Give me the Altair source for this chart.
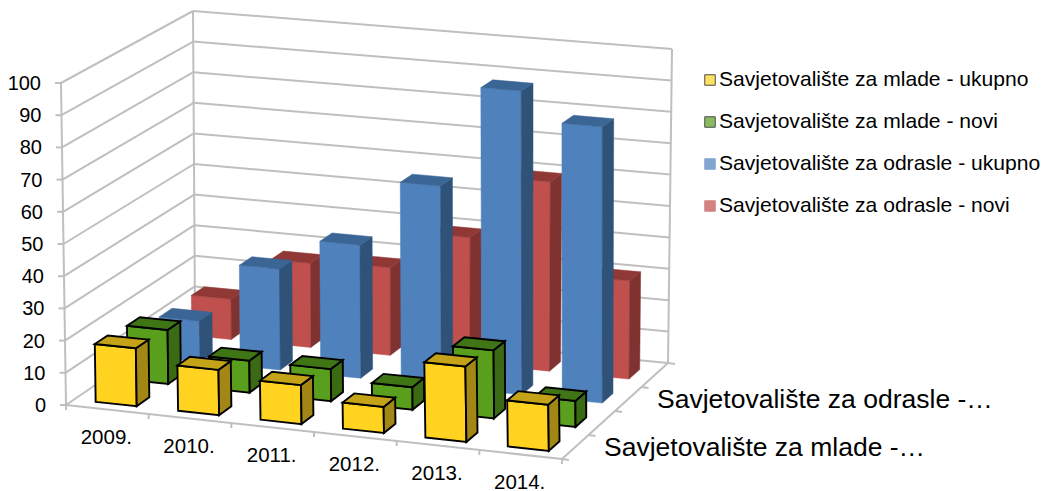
import altair as alt

years = ["2009.", "2010.", "2011.", "2012.", "2013.", "2014."]
legend_names = ["Savjetovalište za mlade - ukupno", "Savjetovalište za mlade - novi",
                "Savjetovalište za odrasle - ukupno", "Savjetovalište za odrasle - novi"]
depth_labels = ["Savjetovalište za mlade -…", "Savjetovalište za odrasle -…"]
y_ticks = [0, 10, 20, 30, 40, 50, 60, 70, 80, 90, 100]

mlade_ukupno = [18, 14, 12, 8, 23, 14]
mlade_novi = [17, 10, 10, 7, 21, 8]
odrasle_ukupno = [13, 32, 42, 63, 95, 86]
odrasle_novi = [13, 27, 28, 40, 60, 31]
series = [mlade_ukupno, mlade_novi, odrasle_ukupno, odrasle_novi]

# front, top, side colours of each series
front = ["#FFD320", "#5A9E1E", "#4F81BD", "#C0504D"]
top = ["#C4A318", "#3F7515", "#3A6594", "#8F3835"]
side = ["#A38714", "#3B6A14", "#2F5279", "#7F3230"]
edge = ["#000000", "#000000", None, None]
grid = "#BFBFBF"

OFF = 8  # page margin
# 3D box corners on the page: (u across, v depth, w height)
C = {(0, 0, 0): (66, 405), (1, 0, 0): (562, 459), (0, 1, 0): (195, 317), (1, 1, 0): (668, 363),
     (0, 0, 1): (61, 83), (1, 0, 1): (557, 128), (0, 1, 1): (193, 11), (1, 1, 1): (672, 49)}


def P(u, v, w):
    x = y = 0.0
    for (a, b, c), (px, py) in C.items():
        f = (u if a else 1 - u) * (v if b else 1 - v) * (w if c else 1 - w)
        x += f * px
        y += f * py
    return round(x - OFF, 2), round(y - OFF, 2)


def poly(points, fill, stroke, sw):
    ring = [list(p) for p in points]
    ring.append(ring[0])
    return {"type": "Feature", "geometry": {"type": "Polygon", "coordinates": [ring]},
            "fill": fill, "edge": stroke or fill, "sw": sw if stroke else 0.5}


features = []
BAR_W = 0.083
BAR_D = 0.1
for s in [3, 2, 1, 0]:
    for i, val in enumerate(series[s]):
        u0 = (i + 0.25) / 6 + 0.002
        u1 = u0 + BAR_W
        v0 = (s + 0.25) / 4
        v1 = v0 + BAR_D
        w = val / 100
        sw = 1.9
        features.append(poly([P(u0, v0, 0), P(u1, v0, 0), P(u1, v0, w), P(u0, v0, w)], front[s], edge[s], sw))
        features.append(poly([P(u1, v0, 0), P(u1, v1, 0), P(u1, v1, w), P(u1, v0, w)], side[s], edge[s], sw))
        features.append(poly([P(u0, v0, w), P(u1, v0, w), P(u1, v1, w), P(u0, v1, w)], top[s], edge[s], sw))

rules = []


def seg(a, b):
    rules.append({"x": a[0], "y": a[1], "x2": b[0], "y2": b[1]})


for t in y_ticks:
    w = t / 100
    seg(P(0, 0, w), P(0, 1, w))
    seg(P(0, 1, w), P(1, 1, w))
    xx, yy = P(0, 0, w)
    seg((xx - 6, yy), (xx, yy))
seg(P(0, 0, 0), P(0, 0, 1))
seg(P(0, 1, 0), P(0, 1, 1))
seg(P(1, 1, 0), P(1, 1, 1))
seg(P(0, 0, 0), P(1, 0, 0))
seg(P(1, 0, 0), P(1, 1, 0))
for i in range(7):
    xx, yy = P(i / 6, 0, 0)
    seg((xx, yy), (xx, yy + 5))
for k in range(5):
    xx, yy = P(1, k / 4, 0)
    seg((xx, yy), (xx + 7, yy + 1))

base = alt.Chart(alt.Data(values=rules))
rule_layer = base.mark_rule(color=grid, strokeWidth=2).encode(
    x=alt.X("x:Q", scale=None, axis=None), y=alt.Y("y:Q", scale=None, axis=None), x2="x2:Q", y2="y2:Q")

bars = alt.Chart(alt.Data(values=features)).mark_geoshape().encode(
    color=alt.Color("fill:N", scale=None, legend=None),
    stroke=alt.Stroke("edge:N", scale=None, legend=None),
    strokeWidth=alt.StrokeWidth("sw:Q", scale=None, legend=None),
).project(type="identity", scale=1, translate=[0, 0])

FONT = "Liberation Sans"
TC = "#000000"
ylab = [{"x": P(0, 0, t / 100)[0] - 20, "y": P(0, 0, t / 100)[1] + 1, "t": str(t)} for t in y_ticks]
ylab_layer = alt.Chart(alt.Data(values=ylab)).mark_text(font=FONT, fontSize=20, align="right", baseline="middle", color=TC).encode(
    x=alt.X("x:Q", scale=None, axis=None), y=alt.Y("y:Q", scale=None, axis=None), text="t:N")

xlab = [{"x": P((i + .5) / 6, 0, 0)[0] - 1, "y": P((i + .5) / 6, 0, 0)[1] + 28, "t": y} for i, y in enumerate(years)]
xlab_layer = alt.Chart(alt.Data(values=xlab)).mark_text(font=FONT, fontSize=20.5, align="center", baseline="middle", color=TC).encode(
    x=alt.X("x:Q", scale=None, axis=None), y=alt.Y("y:Q", scale=None, axis=None), text="t:N")

dlab = []
for k, t in enumerate(depth_labels):
    xx, yy = P(1, (2 * k + 1) / 4, 0)
    dlab.append({"x": xx + 15.5, "y": yy + 13, "t": t})
dlab_layer = alt.Chart(alt.Data(values=dlab)).mark_text(font=FONT, fontSize=26.5, align="left", baseline="middle", color=TC).encode(
    x=alt.X("x:Q", scale=None, axis=None), y=alt.Y("y:Q", scale=None, axis=None), text="t:N")

LEG_TOP = 80 - OFF
LEG_STEP = 42
leg = [{"kx": 710 - OFF, "tx": 719 - OFF, "y": LEG_TOP + k * LEG_STEP, "t": n, "f": front[k], "e": edge[k] or front[k]}
       for k, n in enumerate(legend_names)]
leg_data = alt.Data(values=leg)
leg_keys = alt.Chart(leg_data).mark_square(size=110, filled=True, strokeWidth=1).encode(
    x=alt.X("kx:Q", scale=None, axis=None), y=alt.Y("y:Q", scale=None, axis=None),
    color=alt.Color("f:N", scale=None, legend=None), stroke=alt.Stroke("e:N", scale=None, legend=None))
leg_text = alt.Chart(leg_data).mark_text(font=FONT, fontSize=21.1, align="left", baseline="middle", color=TC).encode(
    x=alt.X("tx:Q", scale=None, axis=None), y=alt.Y("y:Q", scale=None, axis=None), text="t:N")

chart = alt.layer(rule_layer, bars, ylab_layer, xlab_layer, dlab_layer, leg_keys, leg_text).properties(
    width=1032, height=483, padding=0, background="#FFFFFF",
    autosize=alt.AutoSizeParams(type="none")
).configure_view(stroke=None)

chart.save("out.html", embed_options={"renderer": "svg", "actions": False})
